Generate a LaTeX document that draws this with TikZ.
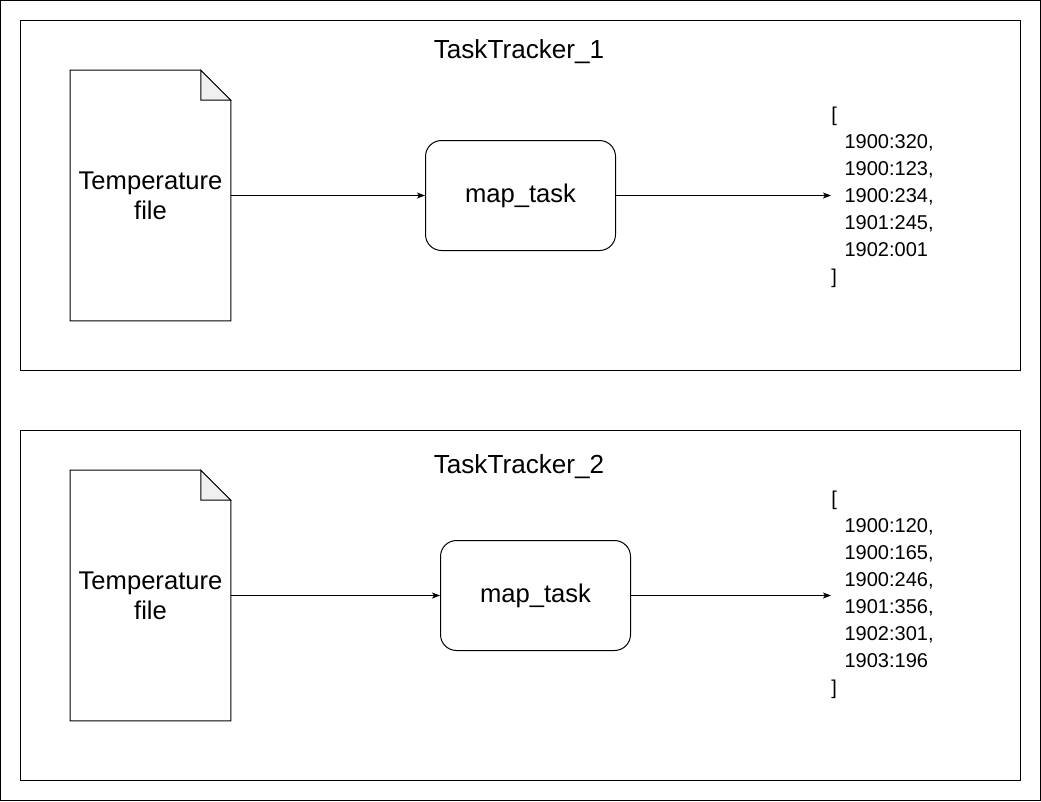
\documentclass[tikz,border=0pt]{standalone}
\usepackage{fontspec}
\setmainfont{Liberation Sans}
\usetikzlibrary{arrows.meta}

\tikzset{
  frame/.style={draw, line width=0.75pt},
  docbox/.style={minimum width=120pt, minimum height=187.5pt, inner sep=0pt, align=center, font=\fontsize{19.2}{22.5}\selectfont},
  taskbox/.style={draw, line width=0.75pt, rounded corners=12pt, minimum width=142.5pt, minimum height=82.5pt, align=center, font=\fontsize{19.2}{22.5}\selectfont},
  titlelabel/.style={anchor=base, inner sep=0pt, font=\fontsize{19.6}{22.5}\selectfont},
  pairlist/.style={anchor=west, inner sep=0pt, align=left, font=\fontsize{15}{20.25}\selectfont},
  flow/.style={-{Stealth[length=6pt,width=4.5pt,inset=1.5pt]}, line width=0.75pt}
}
\newcommand{\fold}{22.5pt}
\newcommand{\indentpair}{\hspace*{10pt}}

\begin{document}
\begin{tikzpicture}[x=0.75pt,y=-0.75pt]
  \useasboundingbox (0,0) rectangle (1041,801);
  \draw[frame] (0.5,0.5) rectangle (1040.5,800.5);

  % first tracker
  \draw[frame] (20.5,20.5) rectangle (1020.5,370.5);
  \node[titlelabel] (title1) at (519,58) {TaskTracker\_1};

  \node[docbox] (doc1) at (150.5,195.5) {Temperature\\file};
  \draw[line width=0.75pt] (doc1.north west) -- ([xshift=-\fold]doc1.north east)
    -- ([yshift=-\fold]doc1.north east) -- (doc1.south east) -- (doc1.south west) -- cycle;
  \filldraw[fill=black!6, line width=0.75pt] ([xshift=-\fold]doc1.north east)
    -- ([xshift=-\fold,yshift=-\fold]doc1.north east) -- ([yshift=-\fold]doc1.north east) -- cycle;

  \node[taskbox] (map1) at (520.5,195.5) {map\_task};

  \node[pairlist] (out1) at (831,197) {[\\
    \indentpair 1900:320,\\
    \indentpair 1900:123,\\
    \indentpair 1900:234,\\
    \indentpair 1901:245,\\
    \indentpair 1902:001\\
    ]};

  \draw[flow] (doc1.east) -- (map1.west);
  \draw[flow] (map1.east) -- (out1.west |- map1.east);

  % second tracker
  \draw[frame] (20.5,430.5) rectangle (1020.5,780.5);
  \node[titlelabel] (title2) at (519,473) {TaskTracker\_2};

  \node[docbox] (doc2) at (150.5,595.5) {Temperature\\file};
  \draw[line width=0.75pt] (doc2.north west) -- ([xshift=-\fold]doc2.north east)
    -- ([yshift=-\fold]doc2.north east) -- (doc2.south east) -- (doc2.south west) -- cycle;
  \filldraw[fill=black!6, line width=0.75pt] ([xshift=-\fold]doc2.north east)
    -- ([xshift=-\fold,yshift=-\fold]doc2.north east) -- ([yshift=-\fold]doc2.north east) -- cycle;

  \node[taskbox] (map2) at (535.5,595.5) {map\_task};

  \node[pairlist] (out2) at (831,595) {[\\
    \indentpair 1900:120,\\
    \indentpair 1900:165,\\
    \indentpair 1900:246,\\
    \indentpair 1901:356,\\
    \indentpair 1902:301,\\
    \indentpair 1903:196\\
    ]};

  \draw[flow] (doc2.east) -- (map2.west);
  \draw[flow] (map2.east) -- (out2.west |- map2.east);
\end{tikzpicture}
\end{document}
